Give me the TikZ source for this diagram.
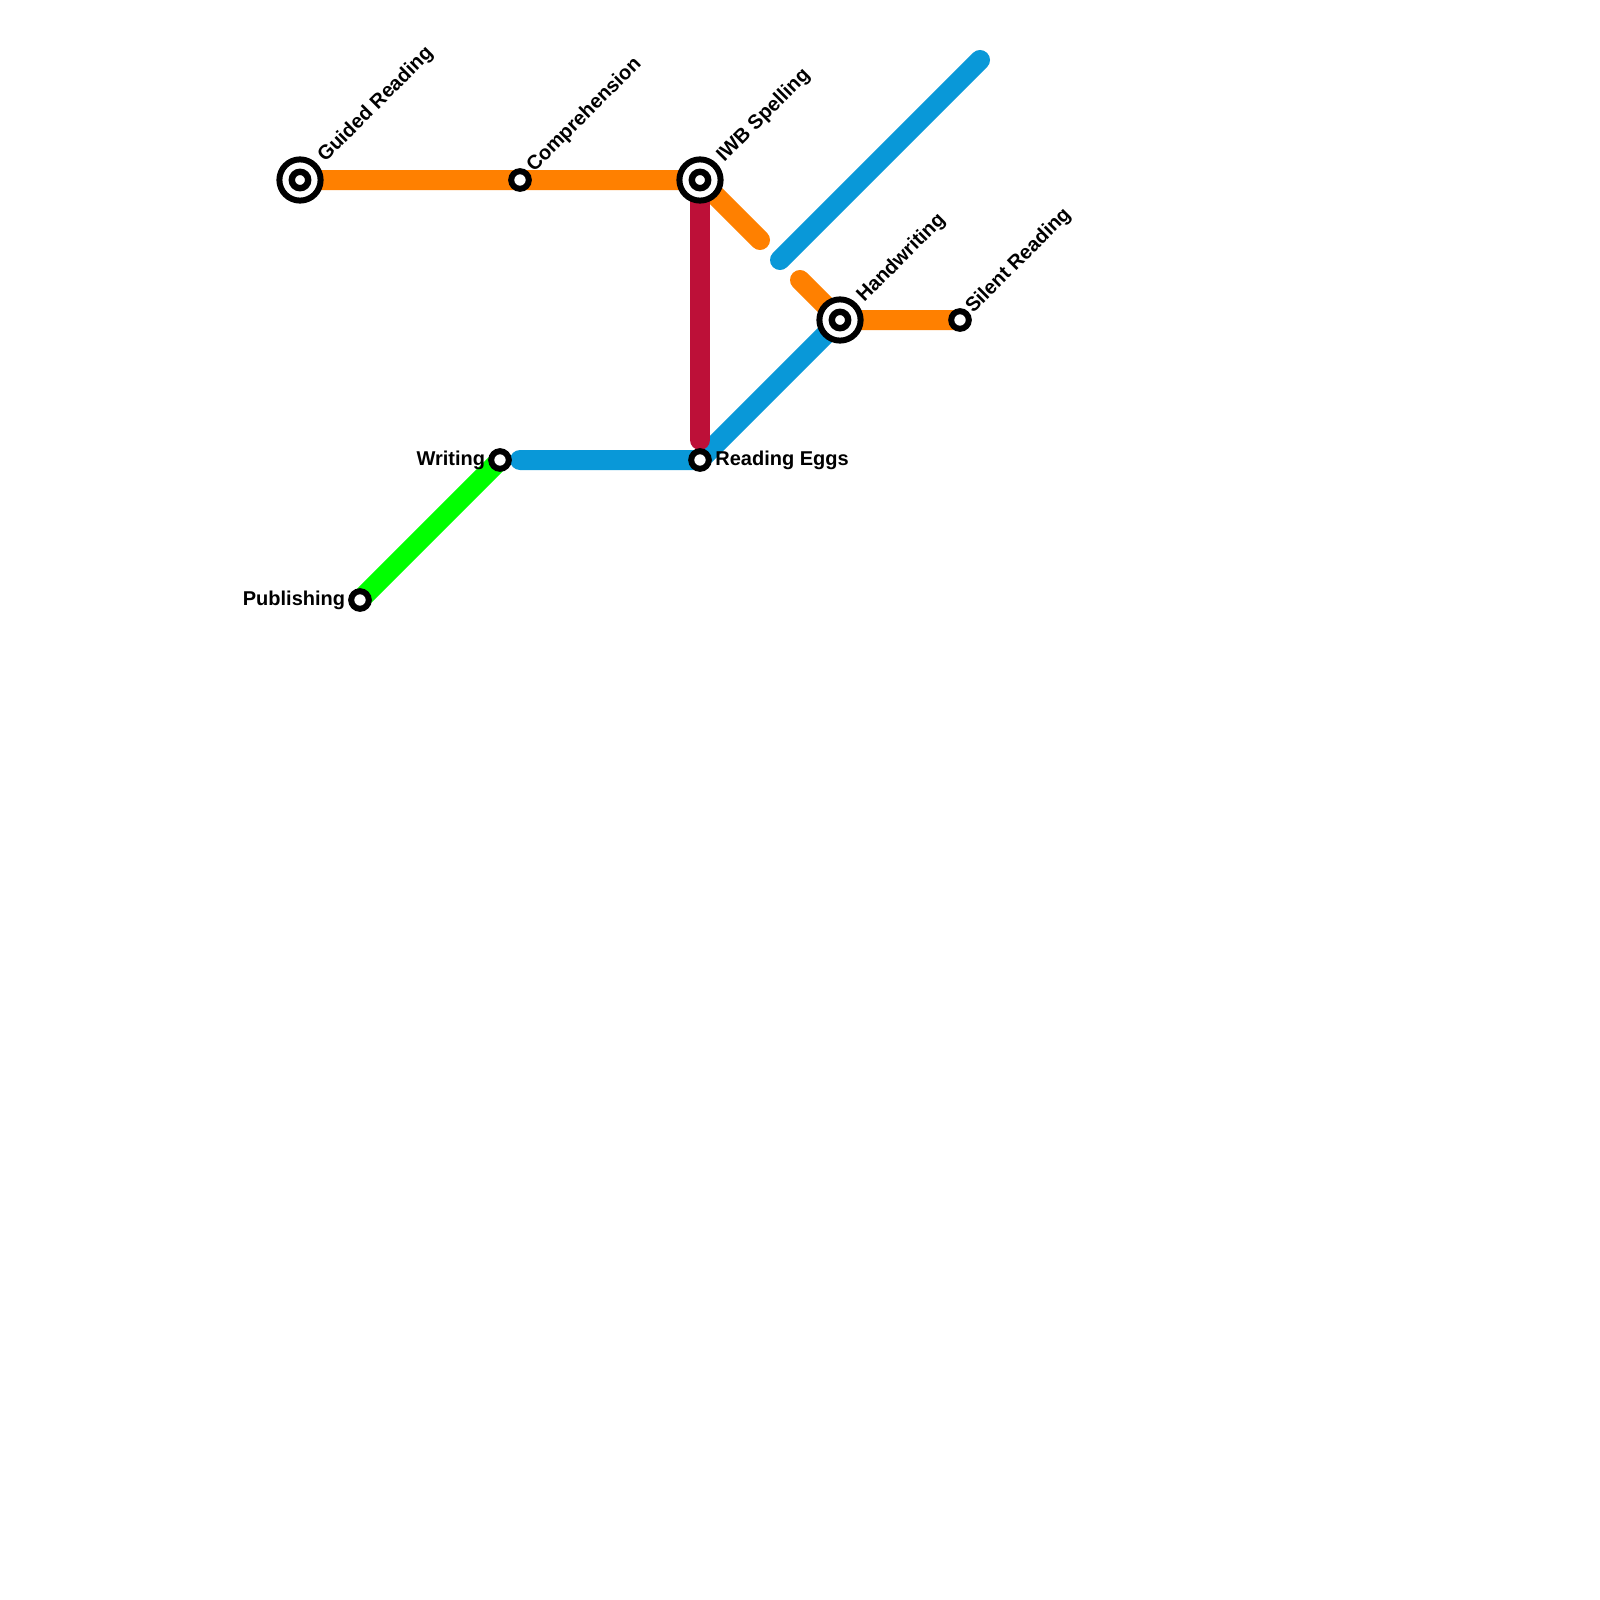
\documentclass[tikz,border=0pt]{standalone}
\usepackage{fontspec}
\setmainfont{Liberation Sans}
\usetikzlibrary{backgrounds}
\definecolor{lineorange}{HTML}{FF8000}
\definecolor{lineblue}{HTML}{0998D8}
\definecolor{linered}{HTML}{BD1038}
\definecolor{linegreen}{HTML}{00FF00}
\tikzset{
  x=0.5pt,y=-0.5pt,
  metro/.style={line width=10pt,line cap=round,line join=round},
  hub/.style={circle,draw=black,fill=white,line width=3pt,minimum size=20.6pt,inner sep=0pt},
  hubdot/.style={circle,draw=black,fill=white,line width=3.2pt,minimum size=8.2pt,inner sep=0pt},
  stop/.style={circle,draw=black,fill=white,line width=3pt,minimum size=8.8pt,inner sep=0pt},
  lbl/.style={font=\fontsize{10}{12}\selectfont\bfseries,text=black,inner sep=0pt,anchor=base west},
  lblr/.style={font=\fontsize{10}{12}\selectfont\bfseries,text=black,inner sep=0pt,anchor=base east},
  lbld/.style={lbl,rotate=45},
}
\begin{document}
\begin{tikzpicture}
\useasboundingbox (0,0) rectangle (1600,1600);
% stations
\node[hub] (guided) at (300,180) {};
\node[hubdot] (guidedc) at (300,180) {};
\node[stop] (compr) at (520,180) {};
\node[hub] (iwb) at (700,180) {};
\node[hubdot] (iwbc) at (700,180) {};
\node[hub] (hand) at (840,320) {};
\node[hubdot] (handc) at (840,320) {};
\node[stop] (silent) at (960,320) {};
\node[stop] (writing) at (500,460) {};
\node[stop] (eggs) at (700,460) {};
\node[stop] (publ) at (360,600) {};
% free ends
\coordinate (oa) at (760,240);
\coordinate (ob) at (800,280);
\coordinate (ba) at (780,260);
\coordinate (bb) at (980,60);
\coordinate (bc) at (520,460);
\coordinate (ra) at (700,440);
\begin{scope}[on background layer]
  \draw[metro,lineorange] (guidedc.center) -- (compr.center) -- (iwbc.center) -- (oa);
  \draw[metro,lineorange] (ob) -- (handc.center) -- (silent.center);
  \draw[metro,lineblue] (bc) -- (eggs.center) -- (handc.center);
  \draw[metro,lineblue] (ba) -- (bb);
  \draw[metro,linered] (iwbc.center) -- (ra);
  \draw[metro,linegreen] (writing.center) -- (publ.center);
\end{scope}
% labels
\node[lbld] (lguided) at (325,163) {Guided Reading};
\node[lbld] (lcompr) at (534,173) {Comprehension};
\node[lbld] (liwb) at (724,163) {IWB Spelling};
\node[lbld] (lhand) at (864,303) {Handwriting};
\node[lbld] (lsilent) at (973,314) {Silent Reading};
\node[lbl] (leggs) at (715,465) {Reading Eggs};
\node[lblr] (lwriting) at (485.5,465) {Writing};
\node[lblr] (lpubl) at (345.5,605) {Publishing};
\end{tikzpicture}
\end{document}
